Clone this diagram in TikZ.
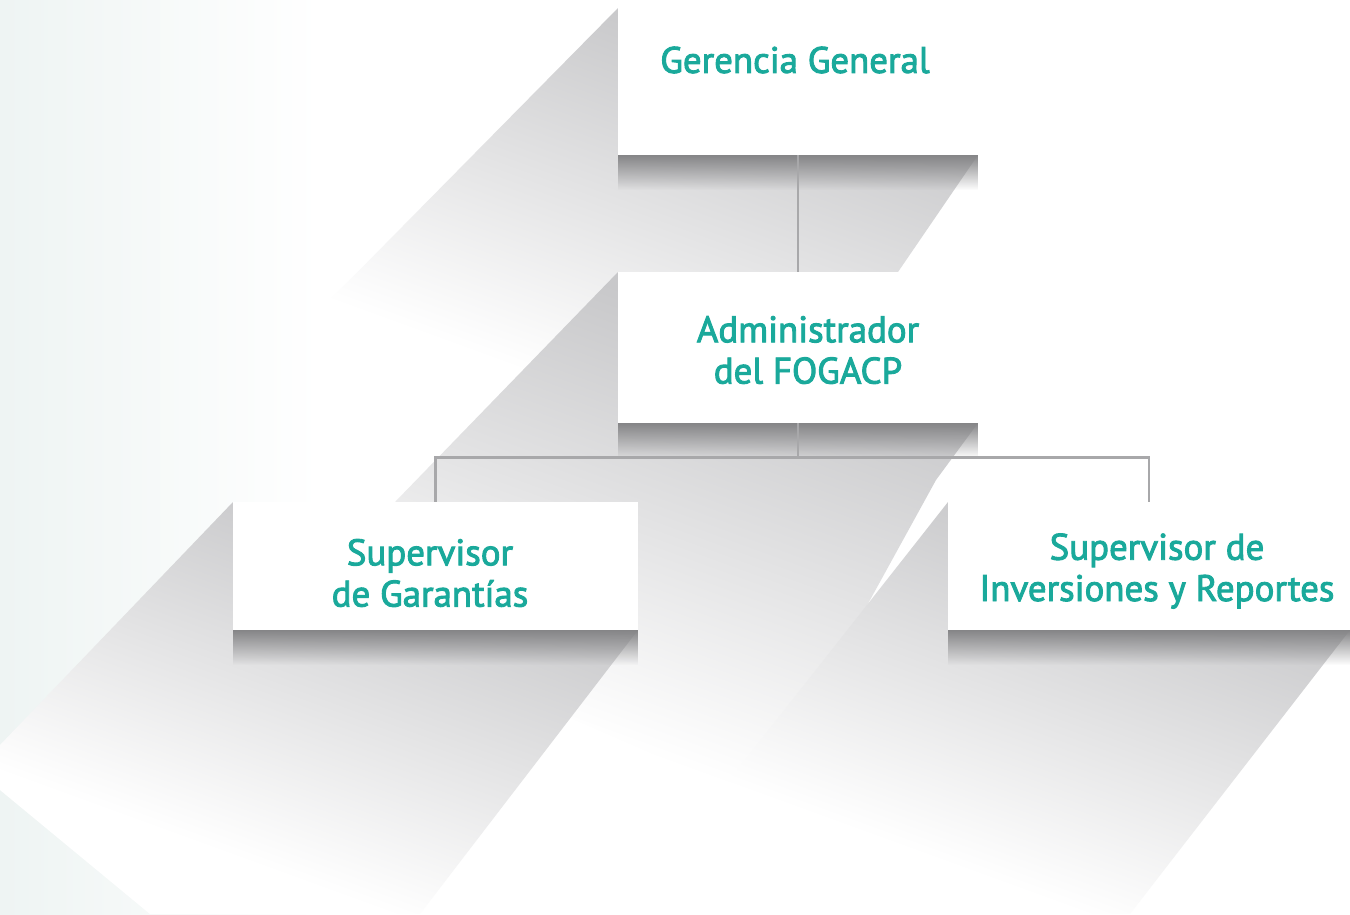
\documentclass[tikz,border=0pt]{standalone}
\usepackage{fontspec}
\newfontfamily\orgfont{PT Sans}[FakeBold=2.5]
\usepackage{tikz}
\usetikzlibrary{calc}
\usetikzlibrary{fadings}
\definecolor{tealtext}{HTML}{1AA99B}
\definecolor{linkgray}{HTML}{A8A8AA}
\definecolor{shadegray}{HTML}{C8C8CA}
\definecolor{banddark}{HTML}{858587}
\definecolor{bgteal}{HTML}{EEF4F3}
\tikzfading[name=bandfade, top color=transparent!0, bottom color=transparent!100]
\pgfdeclareverticalshading{castfade}{100bp}{color(0bp)=(white); color(32bp)=(white); color(70bp)=(shadegray); color(100bp)=(shadegray)}

\begin{document}
\begin{tikzpicture}[x=0.02cm,y=-0.02cm,
    box/.style={fill=white,inner sep=0pt},
    orgtext/.style={text=tealtext,font=\orgfont\fontsize{21}{23.5}\selectfont,align=center},
    link/.style={draw=linkgray,line width=1.6pt},
    castshade/.style={shading=castfade,shading angle=-20},
    band/.style={fill=banddark,path fading=bandfade}]

    \useasboundingbox (0,0) rectangle (1350,914);
    \fill[white] (0,0) rectangle (1350,914);
    \shade[left color=bgteal,right color=white] (0,0) rectangle (320,914);

    % cast shadows
    \shade[castshade] (618,8) -- (978,155) -- (898,272) -- (780,450) -- (600,440) -- (330,300) -- cycle;
    \shade[castshade] (618,272) -- (978,423) -- (936,480) -- (760,800) -- (300,600) -- cycle;
    \shade[castshade] (233,502) -- (638,630) -- (420,914) -- (150,914) -- (0,790) -- (0,745) -- cycle;
    \shade[castshade] (948,502) -- (1350,630) -- (1130,914) -- (900,914) -- (690,830) -- cycle;

    % dark bands under the boxes
    \fill[band] (618,155) -- (978,155) -- (978,190) -- (618,190) -- cycle;
    \fill[band] (618,423) -- (978,423) -- (978,458) -- (618,458) -- cycle;
    \fill[band] (233,630) -- (638,630) -- (638,665) -- (233,665) -- cycle;
    \fill[band] (948,630) -- (1350,630) -- (1350,665) -- (948,665) -- cycle;

    \node[box,minimum width=7.2cm,minimum height=2.94cm] (gg) at (798,81.5) {};
    \node[box,minimum width=7.2cm,minimum height=3.02cm] (adm) at (798,347.5) {};
    \node[box,minimum width=8.1cm,minimum height=2.56cm] (sg) at (435.5,566) {};
    \node[box,minimum width=8.04cm,minimum height=2.56cm] (sir) at (1149,566) {};

    \draw[link] (gg.south) -- (adm.north);
    \coordinate (Bus) at ($(adm.south)+(0,34)$);
    \draw[link] (adm.south) -- (Bus);
    \draw[link] (sg.north) |- (Bus) -| (sir.north);

    \node[orgtext] (ggt) at (795,60) {Gerencia General};
    \node[orgtext] (admt) at (808,350) {Administrador\\del FOGACP};
    \node[orgtext] (sgt) at (430,573) {Supervisor\\de Garantías};
    \node[orgtext] (sirt) at (1157,571) {Supervisor de\\Inversiones y Reportes};
\end{tikzpicture}
\end{document}
